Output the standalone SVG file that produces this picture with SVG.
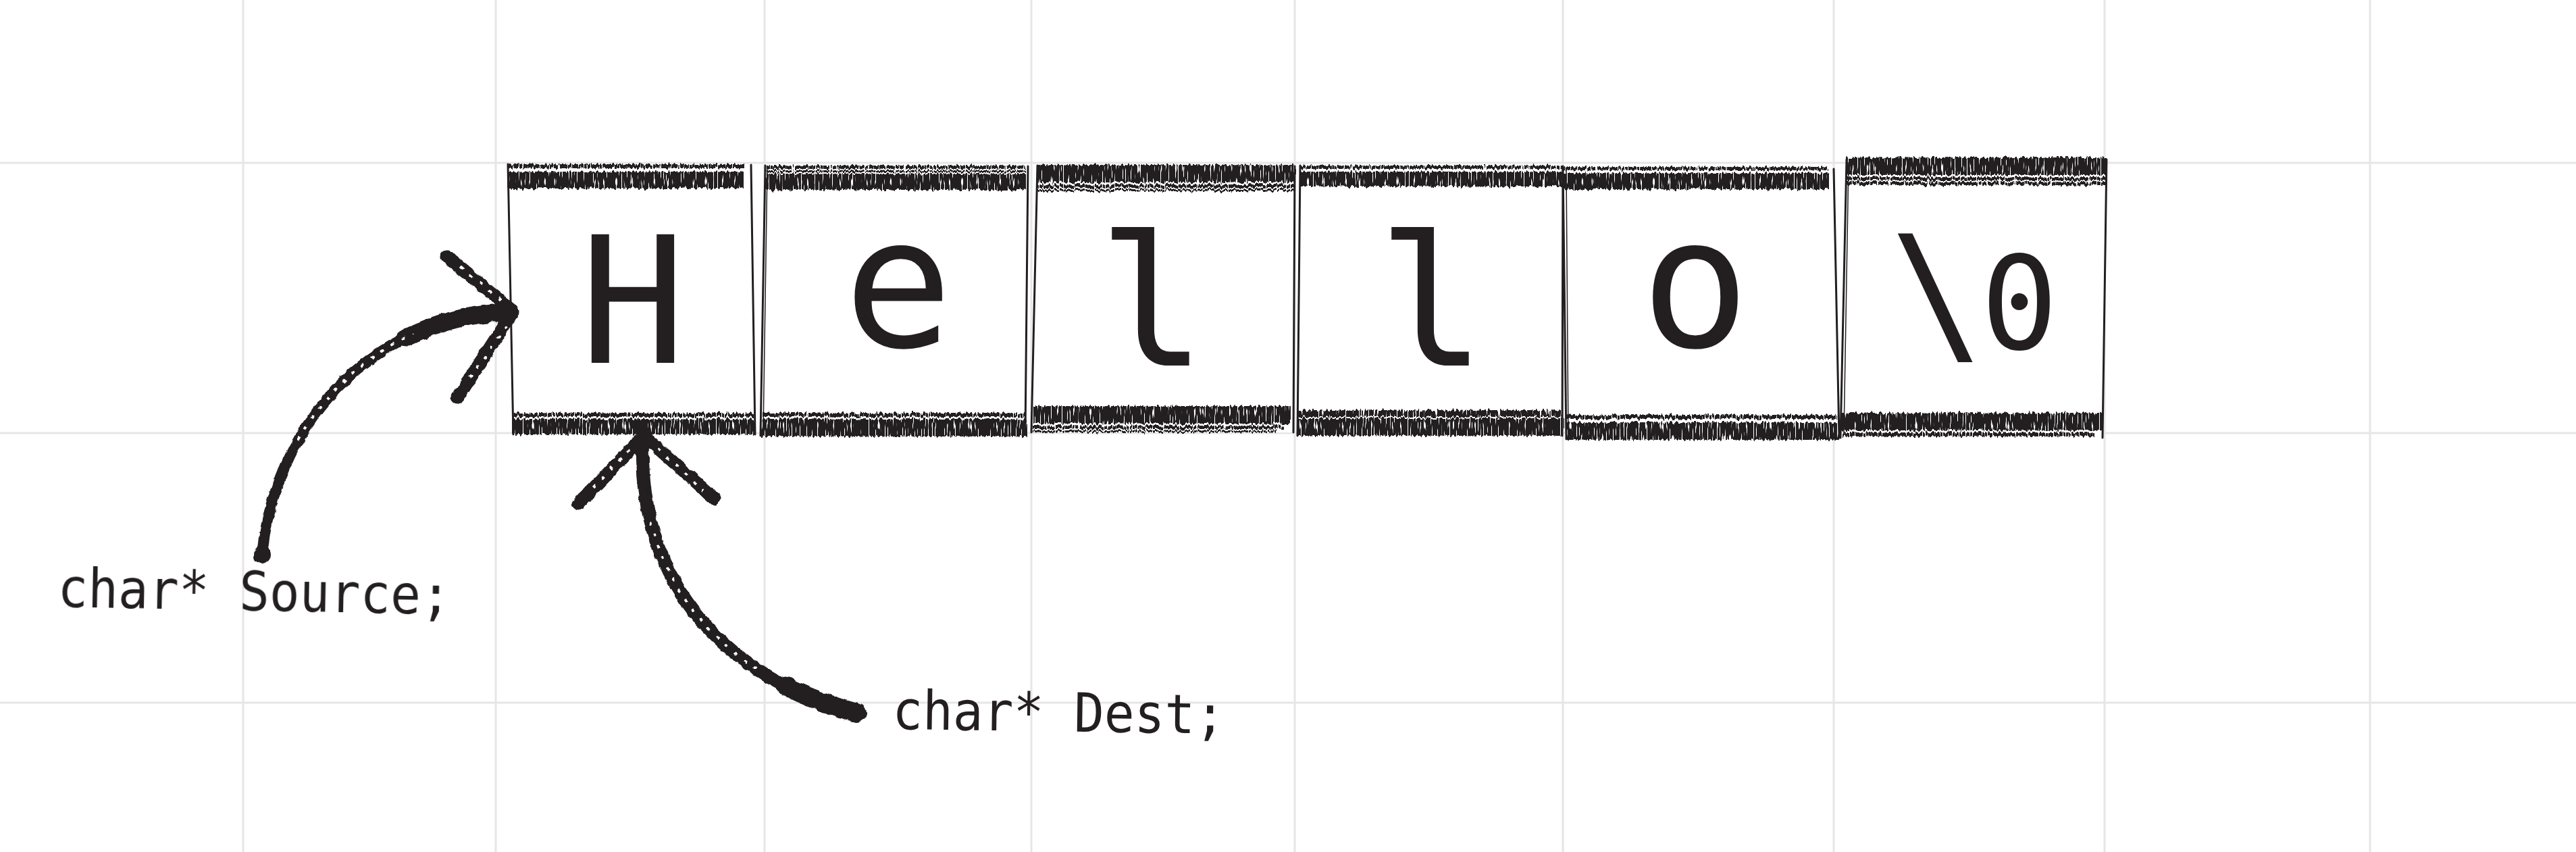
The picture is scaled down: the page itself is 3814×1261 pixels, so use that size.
<svg xmlns="http://www.w3.org/2000/svg" width="3814" height="1261" viewBox="0 0 3814 1261">
<style>
.grid line{stroke:#e6e6e6;stroke-width:3}
.edge{stroke:#231f20;fill:none;stroke-width:3;stroke-linecap:round}
.edge2{stroke:#231f20;fill:none;stroke-width:1.5}
.band{fill:#231f20}
.glyph{font-family:"DejaVu Sans Mono","Liberation Mono",monospace;fill:#231f20;text-anchor:middle}
.label{font-family:"DejaVu Sans Mono","Liberation Mono",monospace;fill:#231f20;font-size:80px}
.shaft{stroke:#231f20;fill:none;stroke-linecap:round;stroke-linejoin:round}
.speck{stroke:#fff;fill:none;stroke-width:4;stroke-dasharray:5 13}
</style>
<defs>
<filter id="brush" filterUnits="userSpaceOnUse" x="700" y="190" width="2480" height="500" color-interpolation-filters="sRGB">
<feTurbulence type="fractalNoise" baseFrequency="0.3 0.02" numOctaves="2" seed="4" result="n"/>
<feDisplacementMap in="SourceGraphic" in2="n" scale="9" xChannelSelector="R" yChannelSelector="G" result="d"/>
<feTurbulence type="fractalNoise" baseFrequency="0.5 0.05" numOctaves="1" seed="9" result="n2"/>
<feColorMatrix in="n2" type="matrix" values="0 0 0 0 0 0 0 0 0 0 0 0 0 0 0 -14 0 0 0 9.6" result="m"/>
<feComposite in="d" in2="m" operator="in"/>
</filter>
<filter id="rough" filterUnits="userSpaceOnUse" x="300" y="300" width="1100" height="820" color-interpolation-filters="sRGB">
<feTurbulence type="fractalNoise" baseFrequency="0.08" numOctaves="2" seed="2" result="n"/>
<feDisplacementMap in="SourceGraphic" in2="n" scale="6" xChannelSelector="R" yChannelSelector="G"/>
</filter>
<clipPath id="srcMid"><rect x="380" y="495" width="250" height="160"/></clipPath>
<clipPath id="dstMid"><rect x="900" y="760" width="250" height="230"/></clipPath>
</defs>
<rect width="3814" height="1261" fill="#fff"/>
<g id="grid" class="grid">
<line x1="360" y1="0" x2="360" y2="1261"/>
<line x1="734" y1="0" x2="734" y2="1261"/>
<line x1="1132" y1="0" x2="1132" y2="1261"/>
<line x1="1527" y1="0" x2="1527" y2="1261"/>
<line x1="1917" y1="0" x2="1917" y2="1261"/>
<line x1="2314" y1="0" x2="2314" y2="1261"/>
<line x1="2715" y1="0" x2="2715" y2="1261"/>
<line x1="3116" y1="0" x2="3116" y2="1261"/>
<line x1="3509" y1="0" x2="3509" y2="1261"/>
<line x1="0" y1="241" x2="3814" y2="241"/>
<line x1="0" y1="641" x2="3814" y2="641"/>
<line x1="0" y1="1040" x2="3814" y2="1040"/>
</g>
<g id="cells">
<g id="cell-H">
<polygon points="752,243 1112,244 1118,643 760,643" fill="#fff"/>
<path class="edge" d="M752,243 L760,643 M1112,244 L1118,643"/>
<text class="glyph" x="937" y="537" font-size="261">H</text>
</g>
<g id="cell-e">
<polygon points="1133,245 1522,245 1518,645 1127,645" fill="#fff"/>
<path class="edge" d="M1133,245 L1126,645 M1522,246 L1518,644"/>
<path class="edge2" d="M1136,250 L1130,640"/>
<text class="glyph" x="1330" y="513" font-size="268">e</text>
</g>
<g id="cell-l1">
<polygon points="1536,245 1917,245 1915,640 1527,640" fill="#fff"/>
<path class="edge" d="M1536,245 L1527,640 M1917,246 L1915,640"/>
<text class="glyph" x="1706" y="541" font-size="268">l</text>
</g>
<g id="cell-l2">
<polygon points="1925,245 2314,245 2313,645 1921,645" fill="#fff"/>
<path class="edge" d="M1925,245 L1921,645 M2314,246 L2313,645"/>
<text class="glyph" x="2120" y="541" font-size="268">l</text>
</g>
<g id="cell-o">
<polygon points="2314,248 2715,248 2723,650 2319,650" fill="#fff"/>
<path class="edge" d="M2314,248 L2319,650 M2715,250 L2723,648"/>
<path class="edge2" d="M2319,252 L2322,646"/>
<text class="glyph" x="2510" y="513" font-size="268">o</text>
</g>
<g id="cell-nul">
<polygon points="2734,234 3119,234 3113,650 2725,650" fill="#fff"/>
<path class="edge" d="M2734,236 L2725,648 M3119,236 L3113,648"/>
<path class="edge2" d="M2737,240 L2730,644"/>
<text class="glyph"><tspan x="2868" y="514" font-size="232">\</tspan><tspan x="2990" y="516" font-size="190">0</tspan></text>
</g>
<g id="bands" filter="url(#brush)">
<rect class="band" x="752" y="243" width="350" height="6"/>
<rect class="band" x="752" y="254" width="350" height="25"/>
<rect class="band" x="760" y="611" width="356" height="6"/>
<rect class="band" x="760" y="620" width="358" height="23"/>
<rect class="band" x="1135" y="245" width="382" height="5"/>
<rect class="band" x="1135" y="252" width="382" height="3"/>
<rect class="band" x="1133" y="257" width="385" height="24"/>
<rect class="band" x="1128" y="611" width="390" height="6"/>
<rect class="band" x="1127" y="620" width="393" height="26"/>
<rect class="band" x="1535" y="244" width="383" height="26"/>
<rect class="band" x="1535" y="273" width="383" height="5"/>
<rect class="band" x="1535" y="280" width="380" height="3"/>
<rect class="band" x="1530" y="601" width="380" height="26"/>
<rect class="band" x="1530" y="630" width="370" height="5"/>
<rect class="band" x="1530" y="637" width="360" height="3"/>
<rect class="band" x="1925" y="245" width="389" height="5"/>
<rect class="band" x="1925" y="254" width="389" height="22"/>
<rect class="band" x="1921" y="607" width="393" height="10"/>
<rect class="band" x="1921" y="619" width="393" height="26"/>
<rect class="band" x="2316" y="247" width="390" height="5"/>
<rect class="band" x="2316" y="256" width="392" height="24"/>
<rect class="band" x="2319" y="614" width="404" height="6"/>
<rect class="band" x="2319" y="625" width="404" height="26"/>
<rect class="band" x="2734" y="233" width="385" height="26"/>
<rect class="band" x="2734" y="262" width="385" height="5"/>
<rect class="band" x="2734" y="269" width="385" height="5"/>
<rect class="band" x="2725" y="611" width="388" height="26"/>
<rect class="band" x="2728" y="640" width="372" height="6"/>
</g>
</g>
<g id="connectors" filter="url(#rough)">
<g id="arrow-source">
<path class="shaft" stroke-width="16" d="M388,821 C405,640 540,470 752,462"/>
<path class="shaft" stroke-width="26" stroke-linecap="butt" pathLength="100" stroke-dasharray="0 72 28 1" d="M388,821 C405,640 540,470 752,462"/>
<path class="shaft" stroke-width="19" d="M759,460 L662,380 M759,462 L678,588"/>
<path class="speck" clip-path="url(#srcMid)" d="M388,821 C405,640 540,470 752,462"/>
<path class="speck" stroke-width="3" d="M742,444 L680,394 M750,482 L690,568"/>
</g>
<g id="arrow-dest">
<path class="shaft" stroke-width="20" d="M1268,1055 C1080,1005 945,870 951,652"/>
<path class="shaft" stroke-width="28" stroke-linecap="butt" pathLength="100" stroke-dasharray="20 81" d="M1268,1055 C1080,1005 945,870 951,652"/>
<path class="shaft" stroke-width="19" d="M953,645 L856,746 M953,645 L1058,738"/>
<path class="speck" clip-path="url(#dstMid)" d="M1268,1055 C1080,1005 945,870 951,652"/>
<path class="speck" stroke-width="3" d="M932,666 L870,730 M974,664 L1042,726"/>
</g>
</g>
<g id="label-source"><text class="label" x="85" y="898" transform="rotate(1.1 85 898) translate(85 898) scale(0.93 1) translate(-85 -898)">char* Source;</text></g>
<g id="label-dest"><text class="label" x="1321" y="1079" transform="rotate(0.8 1321 1079) translate(1321 1079) scale(0.93 1) translate(-1321 -1079)">char* Dest;</text></g>
</svg>
